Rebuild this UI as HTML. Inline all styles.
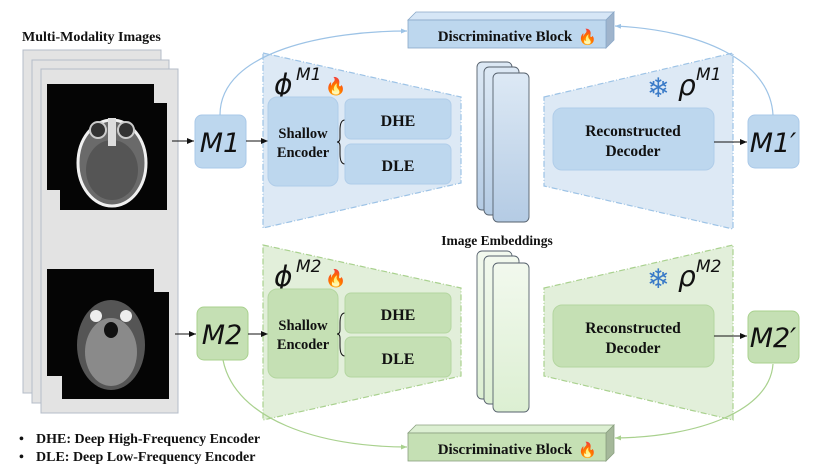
<!DOCTYPE html>
<html><head><meta charset="utf-8"><style>
html,body{margin:0;padding:0;background:#fff;}
svg{display:block;}
.b{font-family:"Liberation Serif",serif;font-weight:bold;fill:#111;}
.m{font-family:"DejaVu Sans","Liberation Sans",sans-serif;font-style:italic;fill:#111;}
</style></head><body>
<svg width="830" height="476" viewBox="0 0 830 476" xmlns="http://www.w3.org/2000/svg">
<defs>
<marker id="ar" markerWidth="8" markerHeight="8" refX="7" refY="4" orient="auto" markerUnits="userSpaceOnUse"><path d="M0,1 L7,4 L0,7 z" fill="#111"/></marker>
<marker id="ab" markerWidth="8" markerHeight="8" refX="6" refY="3" orient="auto" markerUnits="userSpaceOnUse"><path d="M0,0.5 L6,3 L0,5.5 z" fill="#9dc3e6"/></marker>
<marker id="ag" markerWidth="8" markerHeight="8" refX="6" refY="3" orient="auto" markerUnits="userSpaceOnUse"><path d="M0,0.5 L6,3 L0,5.5 z" fill="#a9d18e"/></marker>
<linearGradient id="gb" x1="0" y1="0" x2="0" y2="1"><stop offset="0" stop-color="#dde9f5"/><stop offset="1" stop-color="#b4cbe4"/></linearGradient>
<linearGradient id="gg" x1="0" y1="0" x2="0" y2="1"><stop offset="0" stop-color="#f2f9ee"/><stop offset="1" stop-color="#dcefd2"/></linearGradient>
</defs>

<text x="22" y="41" class="b" font-size="14">Multi-Modality Images</text>
<rect x="23" y="50" width="138" height="343" fill="#e3e3e3" stroke="#b4bcc8" stroke-width="1"/>
<rect x="32" y="60" width="137" height="343" fill="#e3e3e3" stroke="#b4bcc8" stroke-width="1"/>
<rect x="41" y="69" width="137" height="344" fill="#e3e3e3" stroke="#b4bcc8" stroke-width="1"/>
<!-- CT -->
<rect x="47" y="84" width="107" height="106" fill="#050505"/>
<rect x="60" y="103" width="107" height="107" fill="#050505"/>
<ellipse cx="112" cy="163" rx="34" ry="43" fill="#6a6a6a" stroke="#f0f0f0" stroke-width="3"/>
<ellipse cx="112" cy="170" rx="26" ry="30" fill="#555"/>
<circle cx="98" cy="130" r="8" fill="#333" stroke="#ccc" stroke-width="2"/><circle cx="126" cy="130" r="8" fill="#333" stroke="#ccc" stroke-width="2"/>
<rect x="108" y="118" width="8" height="28" fill="#ddd"/>
<!-- MRI -->
<rect x="47" y="269" width="107" height="107" fill="#050505"/>
<rect x="62" y="292" width="107" height="107" fill="#050505"/>
<ellipse cx="111" cy="345" rx="34" ry="45" fill="#555"/>
<ellipse cx="111" cy="352" rx="26" ry="34" fill="#8a8a8a"/>
<circle cx="96" cy="316" r="6" fill="#eee"/><circle cx="126" cy="316" r="6" fill="#eee"/>
<ellipse cx="111" cy="330" rx="7" ry="8" fill="#111"/>

<polygon points="263,53 461,97 461,183 263,228" fill="#dde9f5" stroke="#9dc3e6" stroke-width="1.2" stroke-dasharray="6,2,1,2"/>
<polygon points="544,97 733,53 733,229 544,186" fill="#dde9f5" stroke="#9dc3e6" stroke-width="1.2" stroke-dasharray="6,2,1,2"/>
<polygon points="263,245 461,288 461,376 263,420" fill="#e2efda" stroke="#a9d18e" stroke-width="1.2" stroke-dasharray="6,2,1,2"/>
<polygon points="544,288 733,245 733,420 544,376" fill="#e2efda" stroke="#a9d18e" stroke-width="1.2" stroke-dasharray="6,2,1,2"/>

<!-- top row -->
<line x1="172" y1="141" x2="194" y2="141" stroke="#111" stroke-width="1" marker-end="url(#ar)"/>
<rect x="195" y="115" width="51" height="53" rx="7" fill="#bdd7ee" stroke="#a9c8e8"/>
<text x="220" y="152" class="m" font-size="27" text-anchor="middle">M1</text>
<line x1="246" y1="141" x2="268" y2="141" stroke="#111" stroke-width="1" marker-end="url(#ar)"/>
<text x="274" y="94" class="m" font-size="28">ϕ</text><text x="296" y="80" class="m" font-size="17">M1</text>
<text x="325" y="92" font-size="17" fill="#f4511e">🔥</text>
<rect x="268" y="97" width="70" height="89" rx="9" fill="#bdd7ee" stroke="#b0cde9"/>
<text x="303" y="138" class="b" font-size="14.5" text-anchor="middle">Shallow</text>
<text x="303" y="157" class="b" font-size="14.5" text-anchor="middle">Encoder</text>
<path d="M345,120 Q340,120 340,130 L340,138 Q340,142 337,142 Q340,142 340,146 L340,154 Q340,164 345,164" fill="none" stroke="#111" stroke-width="1"/>
<rect x="345" y="99" width="106" height="40" rx="6" fill="#bdd7ee" stroke="#b0cde9"/>
<text x="398" y="126" class="b" font-size="16" text-anchor="middle">DHE</text>
<rect x="345" y="144" width="106" height="40" rx="6" fill="#bdd7ee" stroke="#b0cde9"/>
<text x="398" y="171" class="b" font-size="16" text-anchor="middle">DLE</text>

<rect x="477" y="62" width="35" height="148" rx="5" fill="url(#gb)" stroke="#55606c" stroke-width="0.9"/>
<rect x="484" y="67" width="35" height="148" rx="5" fill="url(#gb)" stroke="#55606c" stroke-width="0.9"/>
<rect x="493" y="73" width="36" height="149" rx="5" fill="url(#gb)" stroke="#55606c" stroke-width="0.9"/>
<text x="497" y="245" class="b" font-size="13.5" text-anchor="middle">Image Embeddings</text>

<text x="647" y="97" font-size="27" fill="#3a7bc8">❄</text>
<text x="678" y="95" class="m" font-size="28">ρ</text><text x="696" y="80" class="m" font-size="17">M1</text>
<rect x="553" y="108" width="161" height="62" rx="9" fill="#bdd7ee" stroke="#b0cde9"/>
<text x="633" y="136" class="b" font-size="15.5" text-anchor="middle">Reconstructed</text>
<text x="633" y="156" class="b" font-size="15.5" text-anchor="middle">Decoder</text>
<line x1="714" y1="142" x2="747" y2="142" stroke="#111" stroke-width="1" marker-end="url(#ar)"/>
<rect x="748" y="115" width="51" height="53" rx="7" fill="#bdd7ee" stroke="#a9c8e8"/>
<text x="773" y="152" class="m" font-size="27" text-anchor="middle">M1′</text>

<polygon points="408,20 416,12 614,12 606,20" fill="#d6e6f6" stroke="#8aa8c8" stroke-width="0.8"/>
<polygon points="606,20 614,12 614,40 606,48" fill="#9fb4cc" stroke="#8aa8c8" stroke-width="0.8"/>
<rect x="408" y="20" width="198" height="28" fill="#bdd7ee" stroke="#8aa8c8" stroke-width="0.8"/>
<text x="505" y="41" class="b" font-size="15" text-anchor="middle">Discriminative Block</text>
<text x="578" y="42" font-size="15" fill="#f4511e">🔥</text>
<path d="M220,115 C220,50 330,31 407,31" fill="none" stroke="#9dc3e6" stroke-width="1.2" marker-end="url(#ab)"/>
<path d="M773,115 C770,60 700,30 615,26" fill="none" stroke="#9dc3e6" stroke-width="1.2" marker-end="url(#ab)"/>

<!-- bottom row -->
<line x1="175" y1="334" x2="196" y2="334" stroke="#111" stroke-width="1" marker-end="url(#ar)"/>
<rect x="197" y="307" width="51" height="53" rx="7" fill="#c5e0b4" stroke="#a9d18e"/>
<text x="222" y="344" class="m" font-size="27" text-anchor="middle">M2</text>
<line x1="248" y1="334" x2="268" y2="334" stroke="#111" stroke-width="1" marker-end="url(#ar)"/>
<text x="274" y="286" class="m" font-size="28">ϕ</text><text x="296" y="272" class="m" font-size="17">M2</text>
<text x="325" y="284" font-size="17" fill="#f4511e">🔥</text>
<rect x="268" y="289" width="70" height="89" rx="9" fill="#c5e0b4" stroke="#b4d6a0"/>
<text x="303" y="330" class="b" font-size="14.5" text-anchor="middle">Shallow</text>
<text x="303" y="349" class="b" font-size="14.5" text-anchor="middle">Encoder</text>
<path d="M345,313 Q340,313 340,323 L340,330 Q340,334 337,334 Q340,334 340,338 L340,346 Q340,356 345,356" fill="none" stroke="#111" stroke-width="1"/>
<rect x="345" y="293" width="106" height="40" rx="6" fill="#c5e0b4" stroke="#b4d6a0"/>
<text x="398" y="320" class="b" font-size="16" text-anchor="middle">DHE</text>
<rect x="345" y="337" width="106" height="40" rx="6" fill="#c5e0b4" stroke="#b4d6a0"/>
<text x="398" y="364" class="b" font-size="16" text-anchor="middle">DLE</text>

<rect x="477" y="251" width="35" height="148" rx="5" fill="url(#gg)" stroke="#55606c" stroke-width="0.9"/>
<rect x="484" y="256" width="35" height="148" rx="5" fill="url(#gg)" stroke="#55606c" stroke-width="0.9"/>
<rect x="493" y="263" width="36" height="149" rx="5" fill="url(#gg)" stroke="#55606c" stroke-width="0.9"/>

<text x="647" y="288" font-size="27" fill="#3a7bc8">❄</text>
<text x="678" y="286" class="m" font-size="28">ρ</text><text x="696" y="272" class="m" font-size="17">M2</text>
<rect x="553" y="305" width="161" height="62" rx="9" fill="#c5e0b4" stroke="#b4d6a0"/>
<text x="633" y="333" class="b" font-size="15.5" text-anchor="middle">Reconstructed</text>
<text x="633" y="353" class="b" font-size="15.5" text-anchor="middle">Decoder</text>
<line x1="714" y1="336" x2="747" y2="336" stroke="#111" stroke-width="1" marker-end="url(#ar)"/>
<rect x="748" y="311" width="51" height="52" rx="7" fill="#c5e0b4" stroke="#a9d18e"/>
<text x="773" y="347" class="m" font-size="27" text-anchor="middle">M2′</text>

<polygon points="408,433 416,425 614,425 606,433" fill="#dcefd2" stroke="#8aa080" stroke-width="0.8"/>
<polygon points="606,433 614,425 614,453 606,461" fill="#a5b89a" stroke="#8aa080" stroke-width="0.8"/>
<rect x="408" y="433" width="198" height="28" fill="#c5e0b4" stroke="#8aa080" stroke-width="0.8"/>
<text x="505" y="454" class="b" font-size="15" text-anchor="middle">Discriminative Block</text>
<text x="578" y="455" font-size="15" fill="#f4511e">🔥</text>
<path d="M223,360 C235,420 320,447 407,447" fill="none" stroke="#a9d18e" stroke-width="1.2" marker-end="url(#ag)"/>
<path d="M773,364 C770,410 700,437 615,438" fill="none" stroke="#a9d18e" stroke-width="1.2" marker-end="url(#ag)"/>

<text x="19" y="443" class="b" font-size="14">•</text>
<text x="36" y="443" class="b" font-size="14">DHE: Deep High-Frequency Encoder</text>
<text x="19" y="461" class="b" font-size="14">•</text>
<text x="36" y="461" class="b" font-size="14">DLE: Deep Low-Frequency Encoder</text>
</svg>
</body></html>
